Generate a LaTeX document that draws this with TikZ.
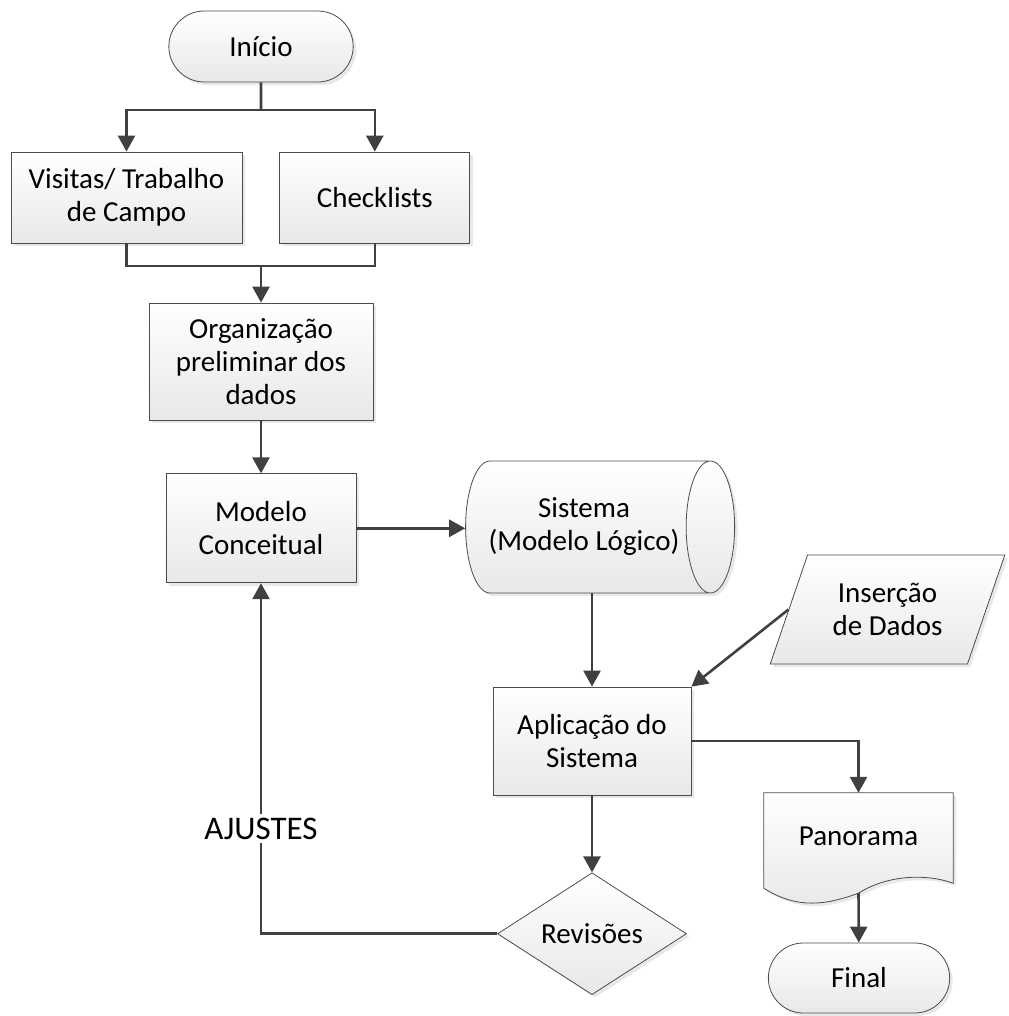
\documentclass[tikz,border=0pt]{standalone}
\usepackage{fontspec}
\setmainfont{Carlito}
\usetikzlibrary{arrows.meta,positioning,shapes.geometric,shapes.misc,shadows,calc}

\begin{document}
\begin{tikzpicture}[x=1pt, y=-1pt, >={Triangle[length=16pt,width=17pt]},
    font=\fontsize{29}{33}\selectfont,
    box/.style={draw=black!70, line width=0.8pt, top color=white, bottom color=black!9,
                drop shadow={shadow xshift=3pt, shadow yshift=-3pt, opacity=0.18}},
    proc/.style={box, rectangle, align=center, inner sep=2pt},
    term/.style={box, rounded rectangle, minimum width=191, minimum height=71},
    decis/.style={box, diamond, inner sep=0pt, minimum width=189, minimum height=107},
    store/.style={box, cylinder, aspect=0.75, align=center, minimum height=269, minimum width=132},
    entrada/.style={box, trapezium, trapezium left angle=64, trapezium right angle=116,
                    trapezium stretches=true, inner sep=0pt,
                    align=center, minimum width=235, minimum height=109},
    flow/.style={draw=black!75, line width=2.6pt}]

    \useasboundingbox (0,0) rectangle (1008,1016);

    % nodes
    \node[term]                                              (ini)  at (261,46.5)   {Início};
    \node[proc, minimum width=231, minimum height=91]        (vis)  at (126.5,197.5) {Visitas/ Trabalho\\de Campo};
    \node[proc, minimum width=190, minimum height=91]        (chk)  [right=37pt of vis] {Checklists};
    \node[proc, minimum width=224, minimum height=117]       (org)  at (261,361.5)  {Organização\\preliminar dos\\dados};
    \node[proc, minimum width=190, minimum height=109]       (mod)  [below=53pt of org] {Modelo\\Conceitual};
    \node[store]                                             (sis)  at (584,527)    {Sistema\\(Modelo Lógico)};
    \node[entrada]                                           (ins)  at (887.5,609.5) {Inserção\\de Dados};
    \node[proc, minimum width=198, minimum height=108]       (apl)  at (592,741)    {Aplicação do\\Sistema};
    \node[decis]                                             (rev)  [below=77pt of apl] {Revisões};
    \node[minimum width=189, minimum height=86, inner sep=0pt] (pano) at (858.5,836) {};
    \node[term, minimum width=188, minimum height=70]        (fin)  at (859,978)    {Final};

    % document shape
    \draw[box] (pano.north west) -- (pano.north east) -- ($(pano.south east)+(0,4)$)
        .. controls ($(pano.south east)+(-28,-6)$) and ($(pano.south)+(28,-4)$) .. ($(pano.south)+(0,14)$)
        .. controls ($(pano.south)+(-28,24)$) and ($(pano.south west)+(36,32)$) .. ($(pano.south west)+(0,9)$)
        -- cycle;
    \node at (pano.center) {Panorama};
    \coordinate (pano-end) at ($(pano.south)+(0,14)$);

    \coordinate (split) at (261,110);
    \coordinate (join)  at (261,266);

    % connectors
    \draw[flow]    (ini) -- (split);
    \draw[flow,->] (split) -| (vis);
    \draw[flow,->] (split) -| (chk);
    \draw[flow]    (vis) |- (join);
    \draw[flow]    (chk) |- (join);
    \draw[flow,->] (join) -- (org);
    \draw[flow,->] (org) -- (mod);
    \draw[flow,->] (mod.east) -- (mod.east -| sis.west);
    \draw[flow,->] (apl.north |- sis.south) -- (apl.north);
    \draw[flow,->] (ins.west) -- (apl.north east);
    \draw[flow,->] (apl.east) -| (pano.north);
    \draw[flow,->] (pano-end) -- (fin);
    \draw[flow,->] (apl) -- (rev);
    \draw[flow,->] (rev.west) -| node[pos=0.65, fill=white, font=\fontsize{33}{36}\selectfont] {AJUSTES} (mod.south);
\end{tikzpicture}
\end{document}
